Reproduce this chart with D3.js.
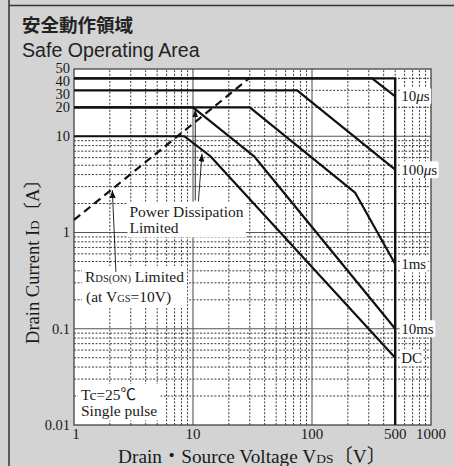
<!DOCTYPE html>
<html>
<head>
<meta charset="utf-8">
<script src="https://cdn.jsdelivr.net/npm/d3@7"></script>
<style>
  body { margin: 0; background: #d3d3d3; }
  svg { display: block; }
  .serif { font-family: "Liberation Serif", "Noto Sans CJK JP", serif; fill: #1a1a1a; }
</style>
</head>
<body>
<svg id="chart" width="454" height="466"></svg>
<script>
// ---- data ----
const xTicks = [1, 10, 100, 500, 1000]
const yTicks = [50, 40, 30, 20, 10, 1, 0.1, 0.01]

const curveNames = ["10μs", "100μs", "1ms", "10ms", "DC"]
const curveV = [
  [1, 320, 500],
  [1, 75, 500],
  [1, 30, 230, 500],
  [1, 10, 33, 500],
  [1, 8.5, 14, 500]
]
const curveI = [
  [40, 40, 26],
  [30, 30, 4.5],
  [20, 20, 2.6, 0.47],
  [20, 20, 6.1, 0.1],
  [10, 10, 6.2, 0.05]
]
// absolute limits (40 A, 500 V)
const limitV = [1, 500, 500]
const limitI = [40, 40, 0.01]
// RDS(on) limited line
const rdsV = [1, 30]
const rdsI = [1.35, 40.5]

// ---- dimensions ----
const W = 454, H = 466
const margin = { top: 69, right: 23, bottom: 41, left: 74 }

const x = d3.scaleLog().domain([1, 1000]).range([margin.left, W - margin.right])
const y = d3.scaleLog().domain([0.01, 50]).range([H - margin.bottom, margin.top])

const svg = d3.select("#chart")

svg.append("rect").attr("width", W).attr("height", H).attr("fill", "#d3d3d3")

// outer frame lines
svg.append("line").attr("x1", 9).attr("x2", 9).attr("y1", 0).attr("y2", H)
    .attr("stroke", "#333").attr("stroke-width", 1.5)
svg.append("line").attr("x1", 9).attr("x2", W).attr("y1", 5.5).attr("y2", 5.5)
    .attr("stroke", "#333").attr("stroke-width", 1.5)

// titles
svg.append("text")
    .attr("x", 22).attr("y", 32)
    .style("font-family", '"Noto Sans CJK JP", sans-serif')
    .style("font-weight", "bold").style("font-size", "18.5px").attr("fill", "#222")
    .text("安全動作領域")
svg.append("text")
    .attr("x", 22).attr("y", 57)
    .style("font-family", '"Liberation Sans", Arial, sans-serif')
    .style("font-size", "19.6px").attr("fill", "#222")
    .text("Safe Operating Area")

// plot background
svg.append("rect")
    .attr("x", x.range()[0]).attr("y", y.range()[1])
    .attr("width", x.range()[1] - x.range()[0])
    .attr("height", y.range()[0] - y.range()[1])
    .attr("fill", "#fff")

const gridLayer = svg.append("g")
const boxLayer = svg.append("g")
const curveLayer = svg.append("g")
const labelLayer = svg.append("g")

const isMajor = v => Math.abs(Math.log10(v) - Math.round(Math.log10(v))) < 1e-6
const [x0, x1] = x.domain(), [y0, y1] = y.domain()

// minor dashed grid
gridLayer.selectAll(".vminor")
  .data(x.ticks().filter(v => !isMajor(v) && v > x0 && v < x1))
  .enter().append("line")
    .attr("x1", d => x(d)).attr("x2", d => x(d))
    .attr("y1", y.range()[0]).attr("y2", y.range()[1])
    .attr("stroke", "#222").attr("stroke-width", 0.9)
    .attr("stroke-dasharray", "2,1.6")
gridLayer.selectAll(".hminor")
  .data(y.ticks().filter(v => !isMajor(v) && v > y0 && v < y1))
  .enter().append("line")
    .attr("y1", d => y(d)).attr("y2", d => y(d))
    .attr("x1", x.range()[0]).attr("x2", x.range()[1])
    .attr("stroke", "#222").attr("stroke-width", 0.9)
    .attr("stroke-dasharray", "2,1.6")

// major solid grid
gridLayer.selectAll(".vmajor")
  .data(x.ticks().filter(v => isMajor(v) && v > x0 && v < x1))
  .enter().append("line")
    .attr("x1", d => x(d)).attr("x2", d => x(d))
    .attr("y1", y.range()[0]).attr("y2", y.range()[1])
    .attr("stroke", "#666").attr("stroke-width", 1.2)
gridLayer.selectAll(".hmajor")
  .data(y.ticks().filter(v => isMajor(v) && v > y0 && v < y1))
  .enter().append("line")
    .attr("y1", d => y(d)).attr("y2", d => y(d))
    .attr("x1", x.range()[0]).attr("x2", x.range()[1])
    .attr("stroke", "#555").attr("stroke-width", 1.2)

// frame
gridLayer.append("rect")
    .attr("x", x.range()[0]).attr("y", y.range()[1])
    .attr("width", x.range()[1] - x.range()[0])
    .attr("height", y.range()[0] - y.range()[1])
    .attr("fill", "none").attr("stroke", "#444").attr("stroke-width", 1.3)

// curves
const line = d3.line().x(d => x(d[0])).y(d => y(d[1]))
const curves = curveV.map((vs, i) => vs.map((v, j) => [v, curveI[i][j]]))

curveLayer.selectAll(".soa")
  .data(curves)
  .enter().append("path")
    .attr("d", line)
    .attr("fill", "none").attr("stroke", "#111").attr("stroke-width", 2.2)
    .attr("stroke-linejoin", "round")

curveLayer.append("path")
    .attr("d", line(limitV.map((v, j) => [v, limitI[j]])))
    .attr("fill", "none").attr("stroke", "#111").attr("stroke-width", 2.4)

curveLayer.append("path")
    .attr("d", line(rdsV.map((v, j) => [v, rdsI[j]])))
    .attr("fill", "none").attr("stroke", "#111").attr("stroke-width", 2.2)
    .attr("stroke-dasharray", "8,5")

// ---- text helpers ----
function boxed(textSel, pad) {
  const b = textSel.node().getBBox()
  boxLayer.append("rect")
      .attr("x", b.x - pad).attr("y", b.y - pad + 1)
      .attr("width", b.width + pad * 2).attr("height", b.height + pad * 2 - 2)
      .attr("rx", 2)
      .attr("fill", "#fff")
}

// curve labels at the 500 V end of each curve
curves.forEach((c, i) => {
  const end = c[c.length - 1]
  const t = labelLayer.append("text")
      .attr("class", "serif")
      .attr("x", x(500) + 6).attr("y", y(end[1]) + 5)
      .style("font-size", "15px")
  const name = curveNames[i]
  if (name.includes("μ")) {
    const parts = name.split("μ")
    t.append("tspan").text(parts[0])
    t.append("tspan").style("font-style", "italic").text("μ")
    t.append("tspan").text(parts[1])
  } else {
    t.text(name)
  }
  boxed(t, 1.5)
})

// Power Dissipation Limited
const pd = labelLayer.append("text").attr("class", "serif").style("font-size", "15.5px")
pd.append("tspan").attr("x", 129.5).attr("y", 216.7).text("Power Dissipation")
pd.append("tspan").attr("x", 129.5).attr("y", 233.3).text("Limited")
boxed(pd, 2)

// RDS(ON) Limited
const rd = labelLayer.append("text").attr("class", "serif").style("font-size", "15.5px")
const rd1 = rd.append("tspan").attr("x", 85).attr("y", 282)
rd1.append("tspan").text("R")
rd1.append("tspan").style("font-size", "10.5px").text("DS(ON)")
rd1.append("tspan").text(" Limited")
const rd2 = rd.append("tspan").attr("x", 86).attr("y", 302)
rd2.append("tspan").text("(at V")
rd2.append("tspan").style("font-size", "10.5px").text("GS")
rd2.append("tspan").text("=10V)")
boxed(rd, 3)

// Tc / single pulse
const tc = labelLayer.append("text").attr("class", "serif").style("font-size", "15.5px")
tc.append("tspan").attr("x", 81).attr("y", 400).text("Tc=25℃")
tc.append("tspan").attr("x", 81).attr("y", 415.5).text("Single pulse")
boxed(tc, 3)

// arrows
const defs = svg.append("defs")
defs.append("marker")
    .attr("id", "arrow")
    .attr("markerUnits", "userSpaceOnUse")
    .attr("markerWidth", 8).attr("markerHeight", 6)
    .attr("refX", 8).attr("refY", 3)
    .attr("orient", "auto")
  .append("path").attr("d", "M0,0L8,3L0,6Z").attr("fill", "#111")

const arrowTail = [[2.25, 0.39], [11.1, 2.1], [10.45, 2.15]]
const arrowTip = [[2.1, 2.75], [11.9, 6.6], [10.45, 19]]
arrowTail.forEach((t, i) => {
  labelLayer.append("line")
      .attr("x1", x(t[0])).attr("y1", y(t[1]))
      .attr("x2", x(arrowTip[i][0])).attr("y2", y(arrowTip[i][1]))
      .attr("stroke", "#111").attr("stroke-width", 0.9)
      .attr("marker-end", "url(#arrow)")
})

// tick labels (the tight 20–50 group is spread slightly, as in the original)
const yNudge = { 50: -1, 40: 3, 30: 4, 20: 0 }
svg.selectAll(".ytick")
  .data(yTicks)
  .enter().append("text")
    .attr("class", "serif")
    .attr("x", x.range()[0] - 4)
    .attr("y", d => y(d) + (yNudge[d] || 0) + 4.8)
    .attr("text-anchor", "end")
    .style("font-size", "14.5px")
    .text(d => d)

svg.selectAll(".xtick")
  .data(xTicks)
  .enter().append("text")
    .attr("class", "serif")
    .attr("x", d => x(d) + (d === 1 ? 2 : 0))
    .attr("y", y.range()[0] + 13.5)
    .attr("text-anchor", "middle")
    .style("font-size", "15px")
    .text(d => d)

// axis titles
const xt = svg.append("text")
    .attr("class", "serif")
    .attr("x", 252).attr("y", 463)
    .attr("text-anchor", "middle")
    .style("font-size", "19.3px")
xt.append("tspan").text("Drain・Source Voltage  V")
xt.append("tspan").style("font-size", "13.5px").text("DS")
xt.append("tspan").text("〔V〕")

const yt = svg.append("text")
    .attr("class", "serif")
    .attr("transform", "translate(39,257) rotate(-90)")
    .attr("text-anchor", "middle")
    .style("font-size", "18.5px")
yt.append("tspan").text("Drain Current  I")
yt.append("tspan").style("font-size", "13px").text("D")
yt.append("tspan").text("〔A〕")
</script>
</body>
</html>
